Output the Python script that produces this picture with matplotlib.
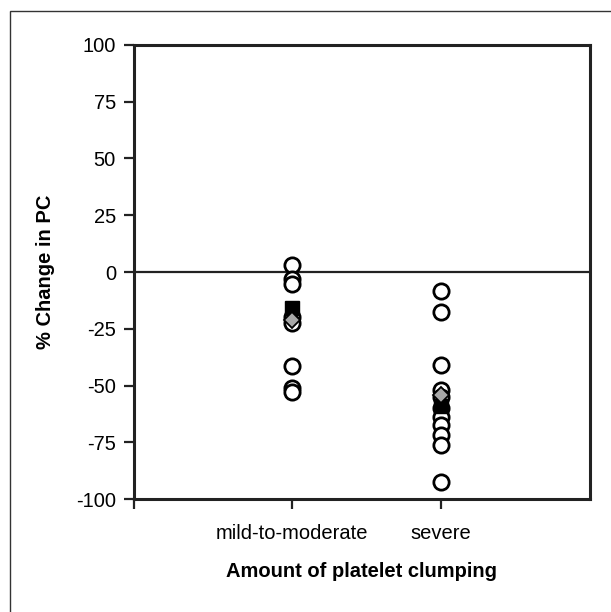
import numpy as np
import matplotlib.pyplot as plt
from matplotlib.patches import Rectangle

plt.rcParams['font.family'] = ['Liberation Sans', 'DejaVu Sans']
plt.rcParams['axes.unicode_minus'] = False

# Datos
categories = ["mild-to-moderate", "severe"]
positions = [1, 2]
mild_values = [3, -3, -5.5, -20, -22.5, -41.5, -51, -53]
severe_values = [-8.5, -17.5, -41, -52, -55, -60, -64, -67.5, -72, -76, -92.5]
mean_values = [-16, -59]      # cuadrado negro
median_values = [-21, -54]    # rombo gris
y_ticks = [100, 75, 50, 25, 0, -25, -50, -75, -100]

fig = plt.figure(figsize=(6.11, 6.12), dpi=100)
ax = fig.add_axes([0.2193, 0.1846, 0.7463, 0.7419])

# Marco exterior
fig.patches.append(Rectangle((10 / 611, -0.1), 1.2, 1.1 - 11 / 612,
                             transform=fig.transFigure, fill=False,
                             edgecolor='#333333', linewidth=1.0))

# Puntos individuales
ax.plot([positions[0]] * len(mild_values), mild_values, 'o', ms=11,
        mfc='white', mec='black', mew=2.0, ls='none', zorder=3)
ax.plot([positions[1]] * len(severe_values), severe_values, 'o', ms=11,
        mfc='white', mec='black', mew=2.0, ls='none', zorder=3)

# Media y mediana
ax.plot(positions, mean_values, 's', ms=10, color='black', ls='none', zorder=4)
ax.plot(positions, median_values, 'D', ms=8.5, mfc='#a8a8a8', mec='black',
        mew=1.3, ls='none', zorder=5)

ax.axhline(0, color='#222222', lw=1.6, zorder=2)

ax.set_xlim(-0.06, 3.0)
ax.set_ylim(-100, 100)
ax.set_yticks(y_ticks)
ax.set_xticks(positions)
ax.set_xticklabels(categories)
ax.set_xticks([-0.06], minor=True)

for s in ax.spines.values():
    s.set_linewidth(2.2)
    s.set_color('#222222')

ax.tick_params(axis='y', direction='out', length=7, width=1.6, pad=6,
               labelsize=14.5, color='#222222')
ax.tick_params(axis='x', which='both', direction='out', length=7, width=1.6,
               pad=11, labelsize=14.5, color='#222222')

ax.set_ylabel("% Change in PC", fontsize=14.5, fontweight='bold', labelpad=15)
ax.set_xlabel("Amount of platelet clumping", fontsize=14.5, fontweight='bold',
              labelpad=14)

fig.savefig("out.png", dpi=100)
